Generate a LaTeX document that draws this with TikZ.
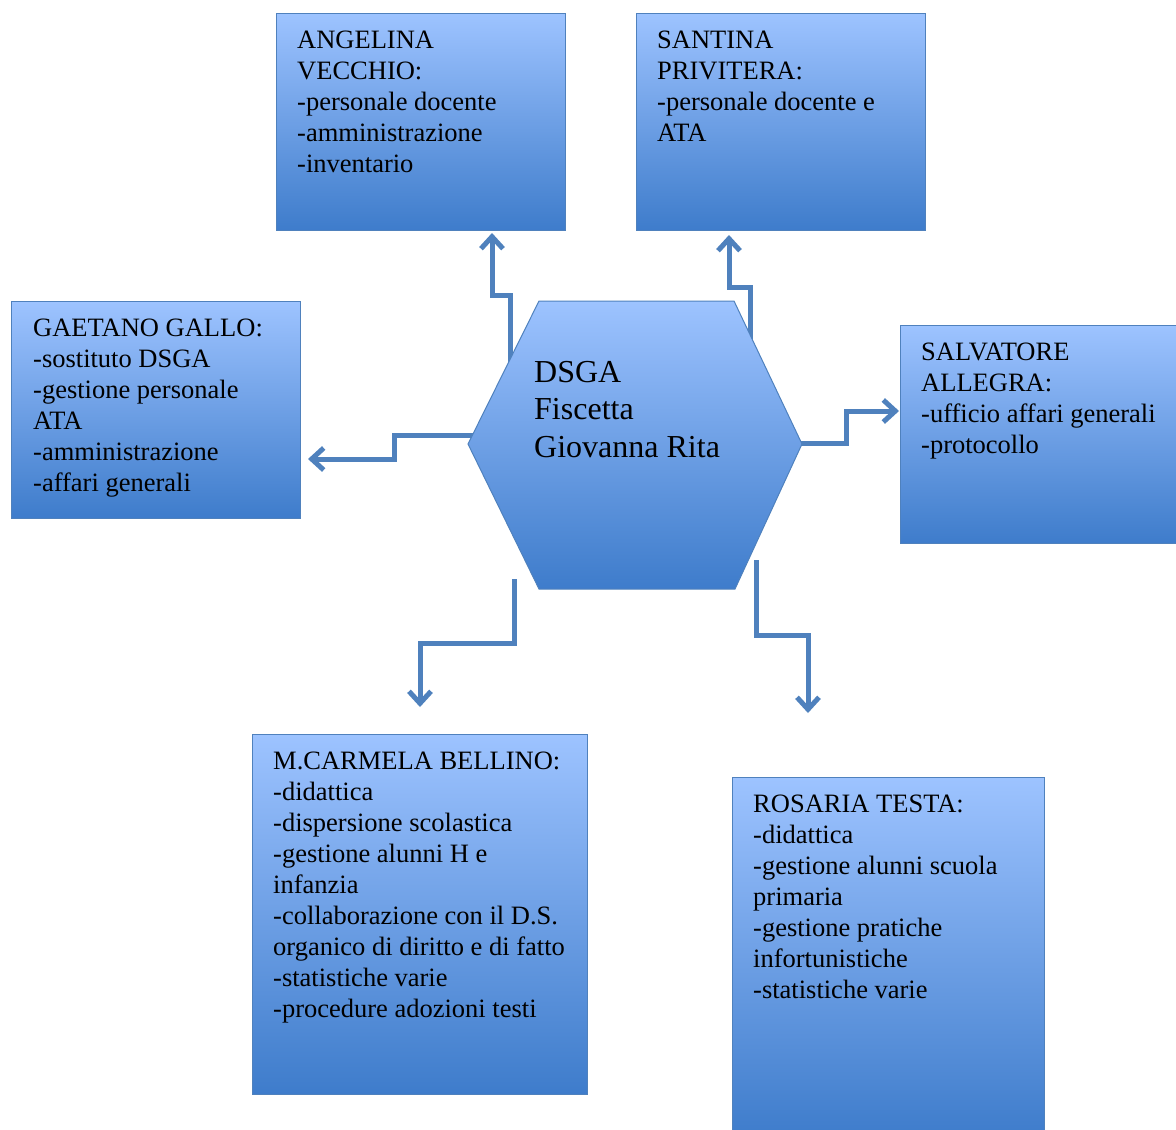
\documentclass[tikz,border=0pt]{standalone}
\usepackage{fontspec}
\setmainfont{Liberation Serif}
\usetikzlibrary{arrows.meta}
\definecolor{boxtop}{HTML}{9DC3FF}
\definecolor{boxbot}{HTML}{3E7CCB}
\definecolor{boxline}{HTML}{4F81BD}
\begin{document}
\begin{tikzpicture}[
    x=1pt, y=-1pt,
    box/.style={draw=boxline, line width=1pt, rectangle, anchor=north west, top color=boxtop, bottom color=boxbot, inner sep=0pt},
    txt/.style={anchor=north west, align=left, inner sep=0pt, font=\fontsize{26.5}{31}\selectfont},
    arrow/.style={draw=boxline, line width=5pt, -{Straight Barb[length=12pt, width=22pt, line width=5pt]}}
]
    \clip (0,0) rectangle (1176,1130);

    % boxes
    \node[box, minimum width=289pt, minimum height=217pt] (angelina) at (276,13) {};
    \node[box, minimum width=289pt, minimum height=217pt] (santina) at (636,13) {};
    \node[box, minimum width=289pt, minimum height=217pt] (gaetano) at (11,301) {};
    \node[box, minimum width=290pt, minimum height=218pt] (salvatore) at (900,325) {};
    \node[box, minimum width=335pt, minimum height=360pt] (carmela) at (252,734) {};
    \node[box, minimum width=312pt, minimum height=360pt] (rosaria) at (732,777) {};

    \node[txt] (angelinatxt) at ([shift={(21,18)}]angelina.north west) {ANGELINA\\VECCHIO:\\-personale docente\\-amministrazione\\-inventario};
    \node[txt] (santinatxt) at ([shift={(21,18)}]santina.north west) {SANTINA\\PRIVITERA:\\-personale docente e\\ATA};
    \node[txt] (gaetanotxt) at ([shift={(22,18)}]gaetano.north west) {GAETANO GALLO:\\-sostituto DSGA\\-gestione personale\\ATA\\-amministrazione\\-affari generali};
    \node[txt] (salvatoretxt) at ([shift={(21,18)}]salvatore.north west) {SALVATORE\\ALLEGRA:\\-ufficio affari generali\\-protocollo};
    \node[txt] (carmelatxt) at ([shift={(21,18)}]carmela.north west) {M.CARMELA BELLINO:\\-didattica\\-dispersione scolastica\\-gestione alunni H e\\infanzia\\-collaborazione con il D.S.\\organico di diritto e di fatto\\-statistiche varie\\-procedure adozioni testi};
    \node[txt] (rosariatxt) at ([shift={(21,18)}]rosaria.north west) {ROSARIA TESTA:\\-didattica\\-gestione alunni scuola\\primaria\\-gestione pratiche\\infortunistiche\\-statistiche varie};

    % connectors from the hexagon
    \coordinate (h1) at (510,365);
    \coordinate (h2) at (750,341);
    \coordinate (h3) at (479,435);
    \coordinate (h4) at (793,443);
    \coordinate (h5) at (514,579);
    \coordinate (h6) at (756,560);

    \draw[arrow] (h1) -- ++(0,-70) -| ([shift={(216,2)}]angelina.south west);
    \draw[arrow] (h2) -- ++(0,-54) -| ([shift={(93,4)}]santina.south west);
    \draw[arrow] (h3) -- ++(-85,0) |- ([shift={(7,158)}]gaetano.north east);
    \draw[arrow] (h4) -- ++(53,0) |- ([shift={(-1,86)}]salvatore.north west);
    \draw[arrow] (h5) -- ++(0,64) -| ([shift={(168,-27)}]carmela.north west);
    \draw[arrow] (h6) -- ++(0,75) -| ([shift={(76,-64)}]rosaria.north west);

    % central hexagon
    \draw[draw=boxline, line width=1pt, top color=boxtop, bottom color=boxbot]
        (468,444) -- (539,301) -- (734,301) -- (802,444) -- (735,589) -- (539,589) -- cycle;
    \node[anchor=north west, align=left, inner sep=0pt, font=\fontsize{32}{37.5}\selectfont] (dsga) at (534,361) {DSGA\\Fiscetta\\Giovanna Rita};
\end{tikzpicture}
\end{document}
